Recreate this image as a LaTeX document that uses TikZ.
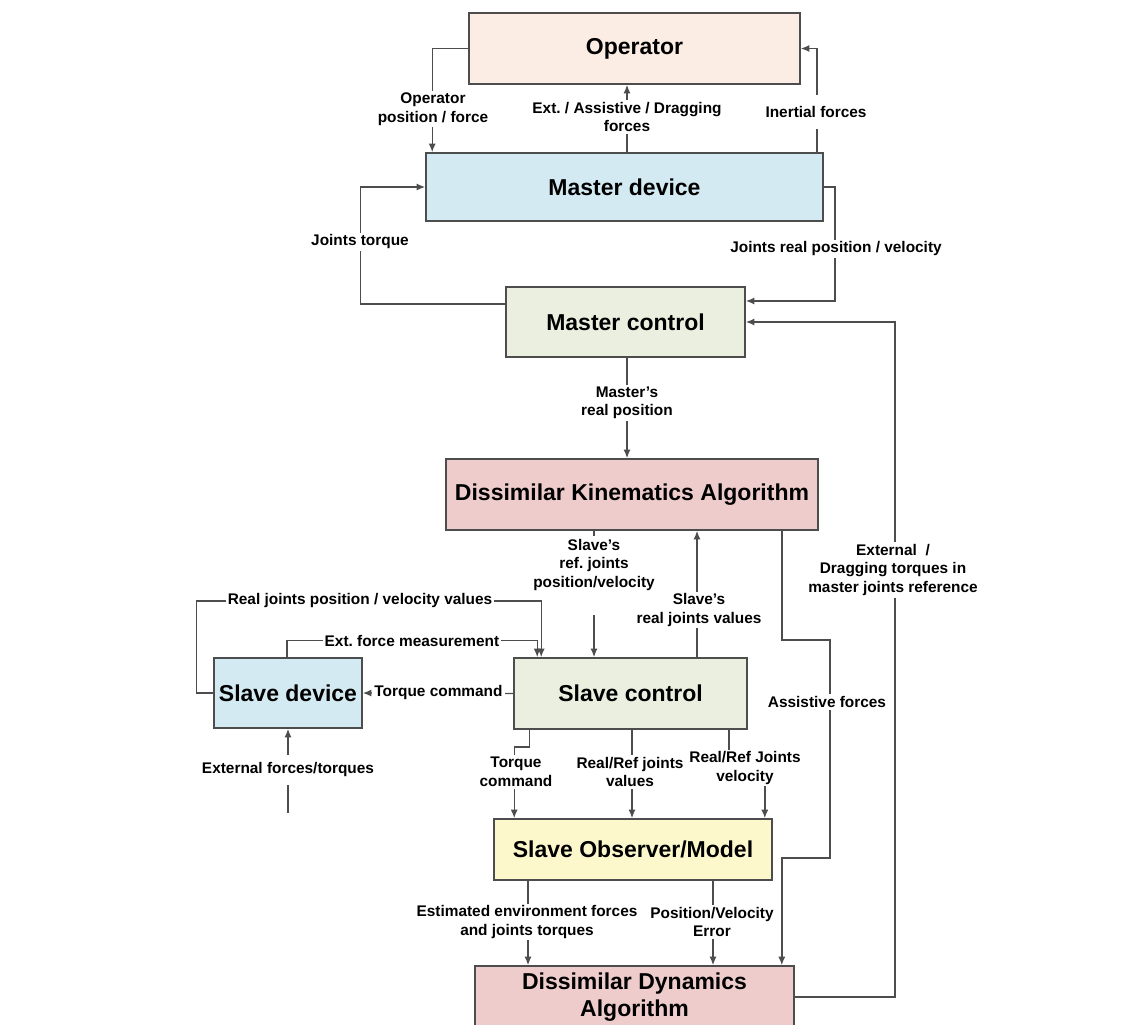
\documentclass[tikz,border=0pt]{standalone}
\usepackage{fontspec}
\setmainfont{Liberation Sans}
\usetikzlibrary{calc,arrows.meta,positioning}

\definecolor{opfill}{HTML}{FBEDE3}
\definecolor{devfill}{HTML}{D3EAF2}
\definecolor{ctrlfill}{HTML}{EBEFDF}
\definecolor{algfill}{HTML}{EECCCC}
\definecolor{obsfill}{HTML}{FCF8CC}
\definecolor{linegray}{HTML}{4D4D4D}

\begin{document}
\frenchspacing
\begin{tikzpicture}[x=1pt,y=-1pt,
    box/.style={draw=linegray,line width=1.6pt,inner sep=0pt,align=center,
      font=\fontsize{23}{27.6}\selectfont\bfseries},
    lbl/.style={fill=white,inner sep=2pt,align=center,
      font=\fontsize{15.4}{18.5}\selectfont\bfseries},
    arr/.style={draw=linegray,line width=1.4pt,-{Latex[length=8.5pt,width=7pt]}}]
  \useasboundingbox (0,0) rectangle (1143,1025);

  % blocks
  \node[box,fill=opfill,minimum width=331pt,minimum height=71pt] (op) at (634.5,48.5) {Operator};
  \node[box,fill=devfill,minimum width=397pt,minimum height=68pt] (md) at (624.5,187) {Master device};
  \node[box,fill=ctrlfill,minimum width=239pt,minimum height=70pt] (mc) at (625.5,322) {Master control};
  \node[box,fill=algfill,minimum width=372pt,minimum height=71pt] (dka) at (632,494.5) {Dissimilar Kinematics Algorithm};
  \node[box,fill=ctrlfill,minimum width=233pt,minimum height=71pt] (sc) at (630.5,693.5) {Slave control};
  \node[box,fill=devfill,minimum width=148pt,minimum height=70pt] (sd) at (288,693) {Slave device};
  \node[box,fill=obsfill,minimum width=278pt,minimum height=61pt] (obs) at (633,849.5) {Slave Observer/Model};
  \node[box,fill=algfill,minimum width=319pt,minimum height=62pt] (dda) at (634.5,997) {Dissimilar Dynamics\\Algorithm};

  % master side
  \draw[arr] (op.west) -| ([xshift=7pt]md.north west);
  \draw[arr] ([xshift=2.5pt]md.north) -- ([xshift=2.5pt]md.north |- op.south);
  \draw[arr] ([xshift=-7pt]md.north east) |- (op.east);
  \draw[arr] (md.east) -- ++(11,0) |- ([yshift=21pt]mc.east);
  \draw[arr] ([yshift=18pt]mc.west) -- ++(-145,0) |- (md.west);
  \draw[arr] (dda.east) -- ++(100,0) |- (mc.east);
  \draw[arr] ([xshift=1.5pt]mc.south) -- ([xshift=1.5pt]mc.south |- dka.north);

  % kinematics to slave
  \draw[arr] ([xshift=-38pt]dka.south) -- ([xshift=-38pt]dka.south |- sc.north);
  \node[lbl,anchor=north,inner ysep=3pt,text depth=25pt] (srefl) at (594,536) {Slave’s\\ref. joints\\position/velocity};
  \draw[arr] ([xshift=66.5pt]sc.north) -- ([xshift=66.5pt]sc.north |- dka.south);
  \draw[arr] ([xshift=-37pt]dka.south east) -- ++(0,109) -- ++(48,0) -- ++(0,218)
    -- ++(-48,0) coordinate (asb) -- (asb |- dda.north);

  % slave side
  \draw[arr] (sd.west) -- ++(-17,0) -- ++(0,-92) -| ([xshift=28pt]sc.north west);
  \draw[arr] ([xshift=-1pt]sd.north) -- ++(0,-17) -| ([xshift=24pt]sc.north west);
  \draw[arr] (sc.west) -- (sd.east);
  \coordinate (extin) at (288,813);
  \draw[arr] (extin) -- (extin |- sd.south);

  % observer
  \draw[arr] ([xshift=16pt]sc.south west) -- ++(0,17) -| ([xshift=21pt]obs.north west);
  \draw[arr] ([xshift=1.5pt]sc.south) -- ([xshift=1.5pt]sc.south |- obs.north);
  \draw[arr] ([xshift=-19pt]sc.south east) -- ++(0,38) -| ([xshift=-8pt]obs.north east);
  \draw[arr] ([xshift=-105pt]obs.south) -- ([xshift=-105pt]obs.south |- dda.north);
  \draw[arr] ([xshift=80pt]obs.south) -- ([xshift=80pt]obs.south |- dda.north);

  % labels
  \node[lbl] (opfl) at (433,109) {Operator\\position / force};
  \node[lbl] (extfl) at (627,117) {Ext. / Assistive / Dragging\\forces};
  \node[lbl,inner ysep=11pt] (inerl) at (816,112) {Inertial forces};
  \node[lbl] (jrpl) at (836,249) {Joints real position / velocity};
  \node[lbl] (jtl) at (360,242) {Joints torque};
  \node[lbl] (mrpl) at (627,403) {Master’s\\real position};
  \node[lbl] (extdl) at (893,570) {External~~/\\Dragging torques in\\master joints reference};
  \node[lbl] (asl) at (827,702) {Assistive forces};
  \node[lbl] (sreall) at (699,610) {Slave’s\\real joints values};
  \node[lbl] (rjpl) at (360,601) {Real joints position / velocity values};
  \node[lbl] (efml) at (412,641) {Ext. force measurement};
  \node[lbl] (tcl) at (438.5,693) {Torque command};
  \node[lbl,inner ysep=8pt] (efl) at (288,770) {External forces/torques};
  \node[lbl] (tc2l) at (516,772) {Torque\\command};
  \node[lbl] (rrvl) at (630,772) {Real/Ref joints\\values};
  \node[lbl] (rrjvl) at (745,768) {Real/Ref Joints\\velocity};
  \node[lbl] (estl) at (527,922) {Estimated environment forces\\and joints torques};
  \node[lbl] (pvel) at (712,922) {Position/Velocity\\Error};
\end{tikzpicture}
\end{document}
